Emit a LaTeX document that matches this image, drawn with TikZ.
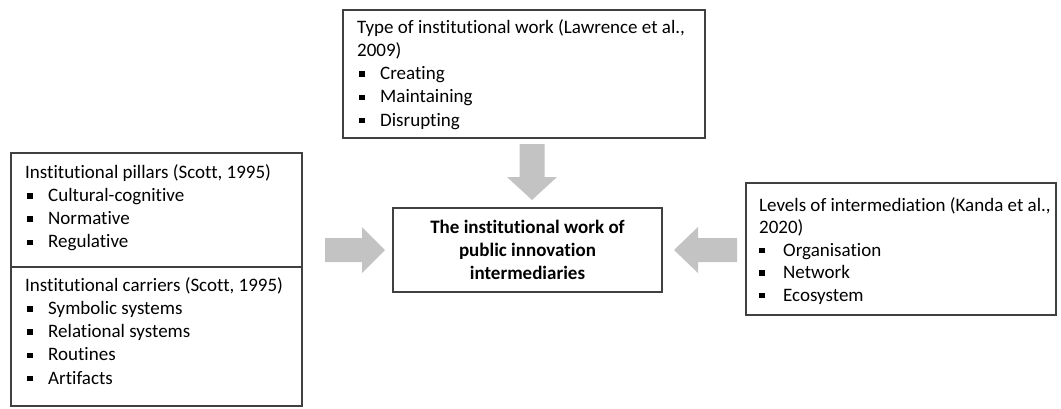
\documentclass[tikz,border=0pt]{standalone}
\usepackage{fontspec}
\setmainfont[Ligatures={NoCommon}]{Carlito}
\definecolor{boxline}{HTML}{404040}
\definecolor{arrowgray}{HTML}{C3C3C3}
\newcommand\bodyfont{\fontsize{19pt}{23.3pt}\selectfont}
\begin{document}
\begin{tikzpicture}[x=1pt,y=-1pt,
  box/.style={draw=boxline, line width=1.3pt, inner sep=0pt},
  txt/.style={anchor=base west, inner sep=0pt, font=\bodyfont},
  blockarrow/.style={fill=arrowgray, draw=none},
  bulletsq/.style={fill=black}]
\useasboundingbox (0,0) rectangle (1061,408);

% frames
\node[box, minimum width=362pt, minimum height=128pt] (types) at (524,74) {};
\node[box, minimum width=291pt, minimum height=114pt] (pillars) at (156.5,210) {};
\node[box, minimum width=291pt, minimum height=139pt] (carriers) at (156.5,336.5) {};
\node[box, minimum width=310pt, minimum height=132pt] (levels) at (901,249) {};

% centre box
\node[box, minimum width=269pt, minimum height=84pt, align=center,
      font=\bodyfont\bfseries] (centre) at (527.5,250)
  {The institutional work of\\public innovation\\intermediaries};

% type of institutional work
\node[txt] (types-t1) at (357,33) {Type of institutional work (Lawrence et al.,};
\node[txt] (types-t2) at (357,56.3) {2009)};
\foreach \t [count=\i] in {Creating, Maintaining, Disrupting} {
  \node[txt] (types-\i) at (380,56.3+23.3*\i) {\t};
  \fill[bulletsq] (359.25,56.3+23.3*\i-8.25) rectangle ++(5.5,5.5);
}

% institutional pillars
\node[txt] (pillars-t) at (25,178) {Institutional pillars (Scott, 1995)};
\foreach \t [count=\i] in {Cultural-cognitive, Normative, Regulative} {
  \node[txt] (pillars-\i) at (48,178+23.3*\i) {\t};
  \fill[bulletsq] (27.25,178+23.3*\i-8.25) rectangle ++(5.5,5.5);
}

% institutional carriers
\node[txt] (carriers-t) at (25,291) {Institutional carriers (Scott, 1995)};
\foreach \t [count=\i] in {Symbolic systems, Relational systems, Routines, Artifacts} {
  \node[txt] (carriers-\i) at (48,291+23.3*\i) {\t};
  \fill[bulletsq] (27.25,291+23.3*\i-8.25) rectangle ++(5.5,5.5);
}

% levels of intermediation
\node[txt] (levels-t1) at (759,211) {Levels of intermediation (Kanda et al.,};
\node[txt] (levels-t2) at (759,233.5) {2020)};
\foreach \t [count=\i] in {Organisation, Network, Ecosystem} {
  \node[txt] (levels-\i) at (783,233.5+22.5*\i) {\t};
  \fill[bulletsq] (759.25,233.5+22.5*\i-8.25) rectangle ++(5.5,5.5);
}

% block arrows into the centre box
\fill[blockarrow] (519.5,144) -- (544.5,144) -- (544.5,177) -- (557,177)
  -- (532,200) -- (507,177) -- (519.5,177) -- cycle;
\fill[blockarrow] (325,238) -- (362,238) -- (362,227) -- (385,250)
  -- (362,273) -- (362,262) -- (325,262) -- cycle;
\fill[blockarrow] (737,238) -- (698,238) -- (698,227) -- (674,250)
  -- (698,273) -- (698,262) -- (737,262) -- cycle;
\end{tikzpicture}
\end{document}
